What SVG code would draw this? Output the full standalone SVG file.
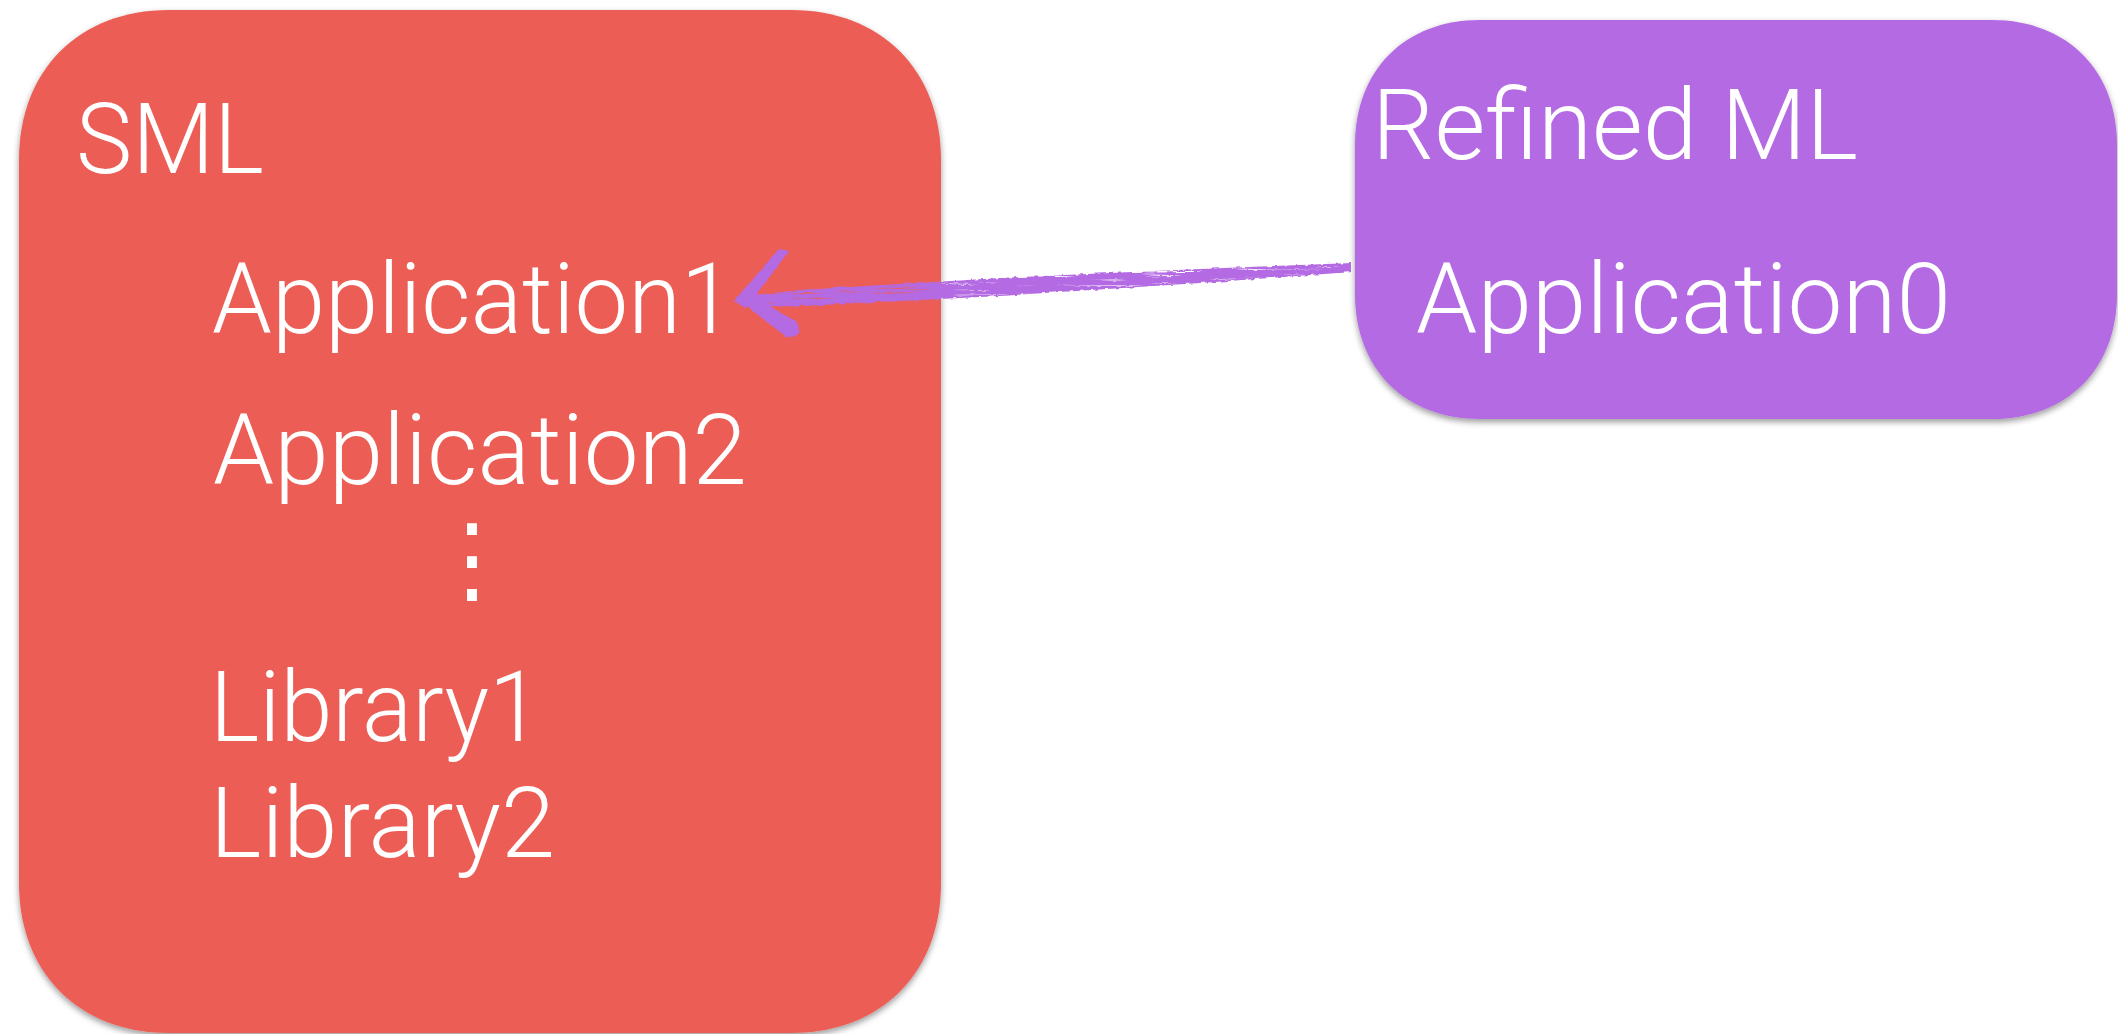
<svg xmlns="http://www.w3.org/2000/svg" width="2118" height="1034" viewBox="0 0 2118 1034">
  <style>
    .label { font-family: Roboto, "Liberation Sans", sans-serif; font-weight: 300; font-size: 98px; fill: #ffffff; }
    .dots { font-family: "DejaVu Sans", sans-serif; font-size: 96px; fill: #ffffff; }
    .brush { fill: #B36AE2; }
  </style>
  <defs>
    <filter id="shadow" x="-5%" y="-5%" width="110%" height="110%">
      <feDropShadow dx="0" dy="3" stdDeviation="3" flood-color="#000" flood-opacity="0.4"/>
    </filter>
    <!-- dry-brush texture: streaky noise cut out of the stroke, edges roughened -->
    <filter id="brush" x="-5%" y="-50%" width="110%" height="200%">
      <feTurbulence type="fractalNoise" baseFrequency="0.015 0.45" numOctaves="2" seed="7" result="noise"/>
      <feColorMatrix in="noise" type="matrix" values="0 0 0 0 0  0 0 0 0 0  0 0 0 0 0  5 0 0 0 -0.9" result="streaks"/>
      <feComposite in="SourceGraphic" in2="streaks" operator="in" result="textured"/>
      <feTurbulence type="fractalNoise" baseFrequency="0.2" numOctaves="1" seed="3" result="jitter"/>
      <feDisplacementMap in="textured" in2="jitter" scale="4" xChannelSelector="R" yChannelSelector="G"/>
    </filter>
    <filter id="rough" x="-20%" y="-20%" width="140%" height="140%">
      <feTurbulence type="fractalNoise" baseFrequency="0.25" numOctaves="1" seed="5" result="jitter"/>
      <feDisplacementMap in="SourceGraphic" in2="jitter" scale="3" xChannelSelector="R" yChannelSelector="G"/>
    </filter>
  </defs>

  <rect width="2118" height="1034" fill="#ffffff"/>

  <!-- SML node -->
  <g id="sml">
    <path d="M 169 10 H 791 C 881 10 941 70 941 160 V 883 C 941 973 881 1033 791 1033 H 169 C 79 1033 19 973 19 883 V 160 C 19 70 79 10 169 10 Z" fill="#EC5D57" filter="url(#shadow)"/>
    <text class="label" x="76" y="173" textLength="188" lengthAdjust="spacingAndGlyphs">SML</text>
    <text class="label" x="212" y="333" textLength="522" lengthAdjust="spacingAndGlyphs">Application1</text>
    <text class="label" x="213" y="484" textLength="534" lengthAdjust="spacingAndGlyphs">Application2</text>
    <text class="dots" x="472" y="592" text-anchor="middle">⋮</text>
    <text class="label" x="210" y="741" textLength="331" lengthAdjust="spacingAndGlyphs">Library1</text>
    <text class="label" x="210" y="857" textLength="345" lengthAdjust="spacingAndGlyphs">Library2</text>
  </g>

  <!-- Refined ML node -->
  <g id="refined-ml">
    <path d="M 1480 20 H 1992 C 2067 20 2117 70 2117 145 V 294 C 2117 369 2067 419 1992 419 H 1480 C 1405 419 1355 369 1355 294 V 145 C 1355 70 1405 20 1480 20 Z" fill="#B36AE2" filter="url(#shadow)"/>
    <text class="label" x="1372" y="159" textLength="486" lengthAdjust="spacingAndGlyphs">Refined ML</text>
    <text class="label" x="1416" y="333" textLength="535" lengthAdjust="spacingAndGlyphs">Application0</text>
  </g>

  <!-- hand-drawn arrow from Application0 to Application1 -->
  <g id="connectors">
    <path class="brush" filter="url(#brush)" d="M 746 296 L 800 290 L 1000 278 L 1200 269 L 1352 263 L 1352 272 L 1200 283 L 1000 296 L 800 306 L 752 307 Z"/>
    <g filter="url(#rough)">
      <path class="brush" d="M 734 301 L 779 249 L 789 251 L 746 308 Z"/>
      <path class="brush" d="M 735 297 L 748 294 L 797 322 Q 803 333 793 337 L 785 336 Z"/>
    </g>
  </g>
</svg>
